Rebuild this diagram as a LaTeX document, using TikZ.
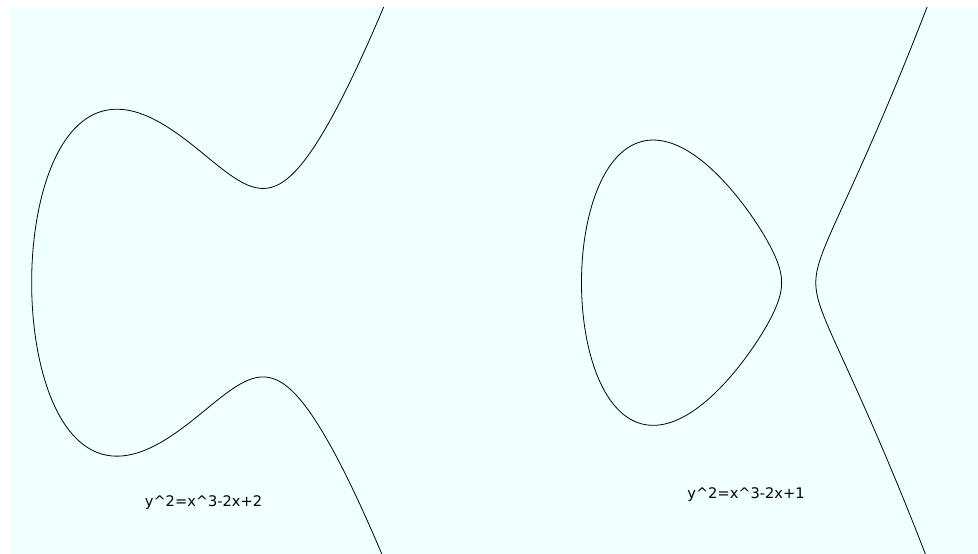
\documentclass[tikz,border=0pt]{standalone}
\usepackage{fontspec}
\setmainfont{DejaVu Sans}
\definecolor{bgcyan}{HTML}{F0FFFF}
\begin{document}
\begin{tikzpicture}[x=1pt,y=1pt,
  curve/.style={line width=0.8pt, black, smooth},
  lbl/.style={font=\fontsize{14.6}{16}\selectfont, anchor=base, inner sep=0pt}]
\useasboundingbox (0,0) rectangle (978,554);
\fill[white] (0,0) rectangle (978,554);
\fill[bgcyan] (10,0) rectangle (978,546);
\begin{scope}
\clip (10,0) rectangle (978,546);
% left curve y^2 = x^3-2x+2
\begin{scope}[shift={(190,271.3)}, x=89.5pt, y=98.7pt]
\draw[curve] plot[variable=\t, domain=-2.05:2.05, samples=300]
  ({-1.769292+\t*\t}, {\t*sqrt((-1.769292+\t*\t)*(-1.769292+\t*\t) - 1.769292*(-1.769292+\t*\t) + 1.130394)});
\end{scope}
% right curve y^2 = x^3-2x+1
\begin{scope}[shift={(726.3,271.3)}, x=89.5pt, y=98.7pt]
\draw[curve] plot[variable=\t, domain=0:360, samples=241]
  ({-0.5+1.118034*cos(\t)}, {1.118034*sin(\t)*sqrt(1.5-1.118034*cos(\t))});
\draw[curve] plot[variable=\t, domain=-1.16:1.16, samples=200]
  ({1+\t*\t}, {\t*sqrt((1+\t*\t)*(1+\t*\t)+(1+\t*\t)-1)});
\end{scope}
\end{scope}
\node[lbl] (l1) at (203.5,47.5) {y\textasciicircum 2=x\textasciicircum 3-2x+2};
\node[lbl] (l2) at (746,55.5) {y\textasciicircum 2=x\textasciicircum 3-2x+1};
\end{tikzpicture}
\end{document}
